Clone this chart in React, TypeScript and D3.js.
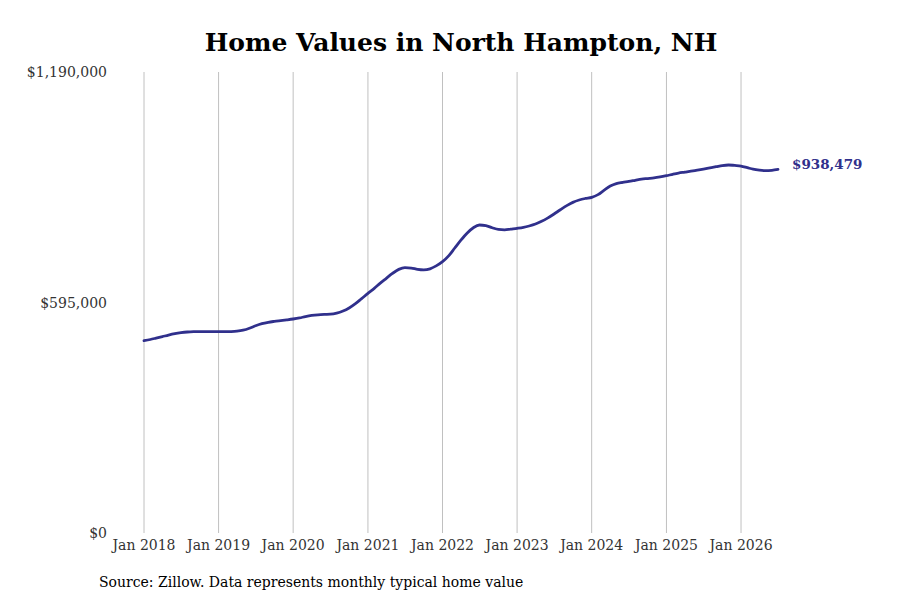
import React from "react";
import * as d3 from "d3";

const title = "Home Values in North Hampton, NH";
const source = "Source: Zillow. Data represents monthly typical home value";
const startYear = 2018;
const values2018 = [496400, 499500, 503000, 507000, 511000, 514500, 517000, 518800, 519700, 520000, 519800, 519600];
const values2019 = [519600, 519700, 520000, 521000, 523500, 528500, 535000, 540500, 544000, 546300, 548300, 550200];
const values2020 = [552400, 555200, 558600, 561500, 563300, 564300, 564800, 567500, 573000, 581000, 592000, 605000];
const values2021 = [618700, 631500, 644500, 657500, 670000, 680500, 685000, 684000, 680500, 679200, 682000, 689500];
const values2022 = [700300, 716000, 735000, 756000, 774000, 788000, 795000, 793500, 788000, 783500, 782500, 784500];
const values2023 = [786500, 789000, 792500, 797500, 804500, 813500, 823500, 834500, 845000, 853500, 859600, 863500];
const values2024 = [866500, 873500, 884500, 895500, 902000, 905000, 907500, 910500, 913500, 915000, 916500, 919000];
const values2025 = [922300, 926000, 929000, 931500, 934000, 936800, 939500, 942500, 945500, 948500, 950000, 948800];
const values2026 = [947300, 943000, 939000, 936500, 935300, 936300, 938479];
const yTicks = [0, 595000, 1190000];
const xTickYears = [2018, 2019, 2020, 2021, 2022, 2023, 2024, 2025, 2026];
const endLabel = "$938,479";

const allValues = [
  ...values2018, ...values2019, ...values2020, ...values2021, ...values2022,
  ...values2023, ...values2024, ...values2025, ...values2026,
];
const data = allValues.map((v, i) => ({
  date: new Date(startYear + Math.floor(i / 12), i % 12, 1),
  value: v,
}));

const LINE = "#30308c";
const FONT = "'DejaVu Serif', serif";

export default function App() {
  const x = d3
    .scaleTime()
    .domain([data[0].date, data[data.length - 1].date])
    .range([144, 778]);
  const y = d3.scaleLinear().domain([0, 1190000]).range([533, 72]);
  const line = d3
    .line<{ date: Date; value: number }>()
    .x((d) => x(d.date))
    .y((d) => y(d.value))
    .curve(d3.curveMonotoneX);
  const fmt = (v: number) => "$" + d3.format(",")(v);
  const last = data[data.length - 1];

  return (
    <svg width={900} height={600} style={{ position: "absolute", left: 0, top: 0, background: "#fff" }}>
      <rect width={900} height={600} fill="#fff" />
      <text x={461} y={51} textAnchor="middle" fontFamily={FONT} fontWeight="bold" fontSize={25} fill="#000">
        {title}
      </text>
      {xTickYears.map((yr) => {
        const xx = x(new Date(yr, 0, 1));
        return (
          <g key={yr}>
            <line x1={xx} x2={xx} y1={72} y2={533} stroke="#c0c0c0" strokeWidth={1} />
            <text x={xx} y={550} textAnchor="middle" fontFamily={FONT} fontSize={14} fill="#333">
              {"Jan " + yr}
            </text>
          </g>
        );
      })}
      {yTicks.map((t) => (
        <text key={t} x={107} y={y(t) + 5} textAnchor="end" fontFamily={FONT} fontSize={14} fill="#333">
          {fmt(t)}
        </text>
      ))}
      <path d={line(data) || ""} fill="none" stroke={LINE} strokeWidth={2.8} strokeLinejoin="round" strokeLinecap="round" />
      <text x={792} y={y(last.value)} textAnchor="start" fontFamily={FONT} fontWeight="bold" fontSize={13.5} fill={LINE}>
        {endLabel}
      </text>
      <text x={99} y={587} fontFamily={FONT} fontSize={14} fill="#000">
        {source}
      </text>
    </svg>
  );
}
